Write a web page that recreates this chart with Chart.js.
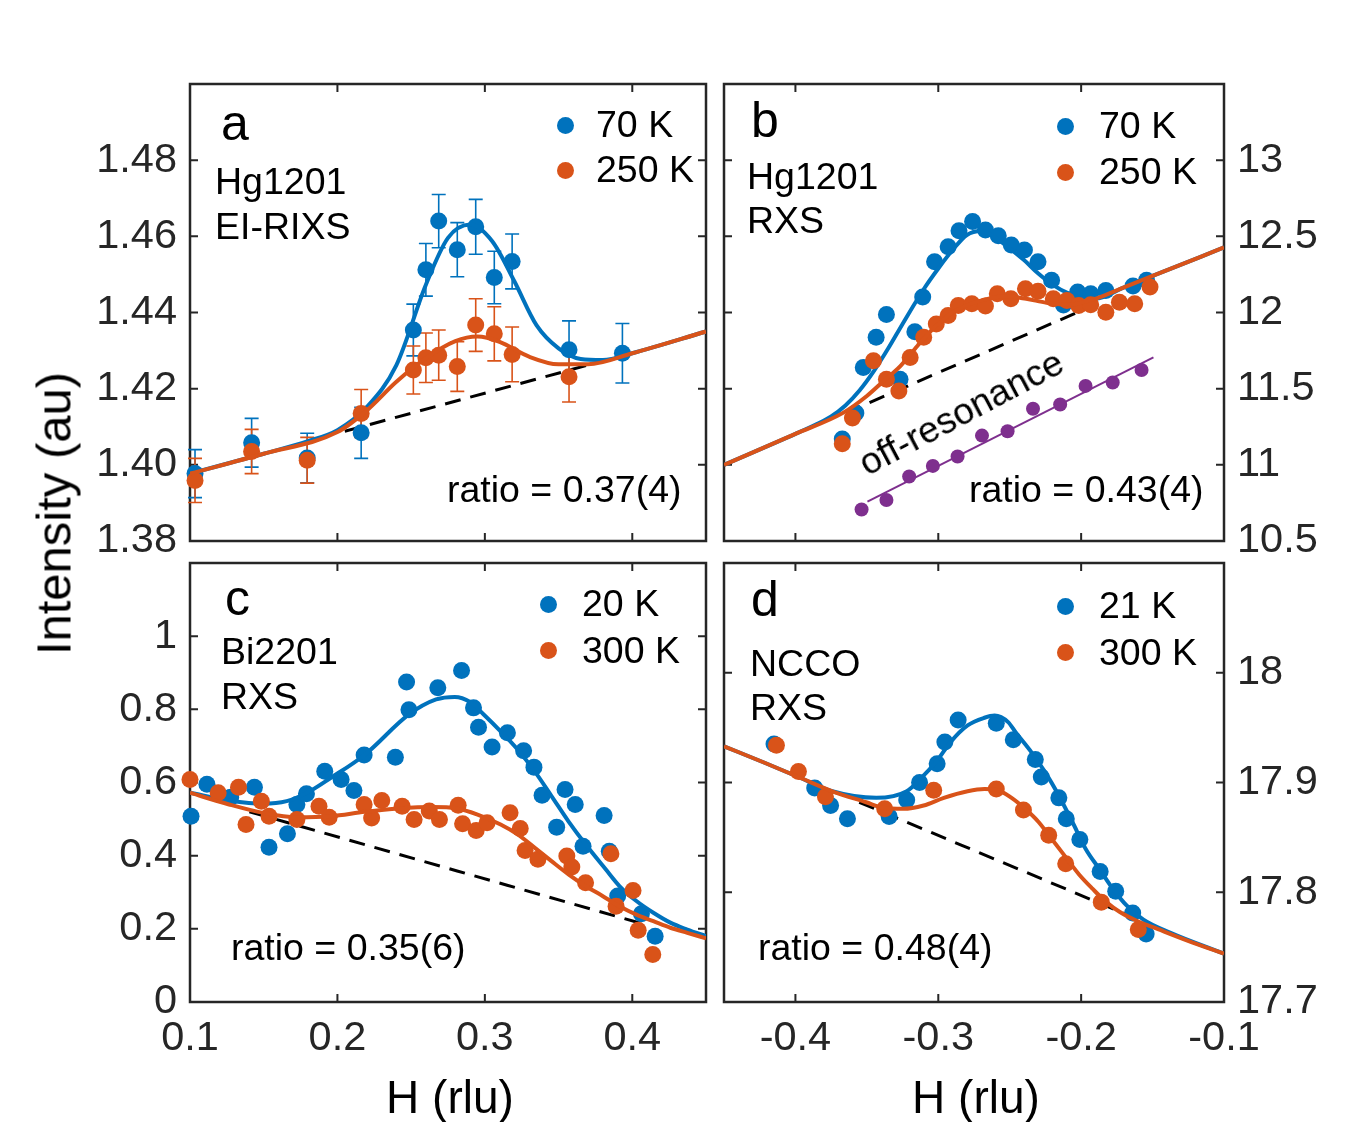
<!DOCTYPE html>
<html><head><meta charset="utf-8">
<script src="https://cdn.jsdelivr.net/npm/chart.js@4/dist/chart.umd.min.js"></script>
<style>
html,body{margin:0;padding:0;background:#fff;}
#wrap{position:relative;width:1350px;height:1122px;overflow:hidden;font-family:"Liberation Sans",Arial,Helvetica,sans-serif;}
#wrap canvas{position:absolute;left:0;top:0;}
.t{position:absolute;white-space:nowrap;line-height:1;color:#000;}
.dot{position:absolute;border-radius:50%;}
</style></head><body>
<div id="wrap">
<canvas id="ca" width="1350" height="1122"></canvas>
<canvas id="cb" width="1350" height="1122"></canvas>
<canvas id="cc" width="1350" height="1122"></canvas>
<canvas id="cd" width="1350" height="1122"></canvas>
</div>
<script>
// ---------- Panel a: Hg1201 EI-RIXS ----------
const hA70  = [0.1034,0.1418,0.1795,0.2161,0.2515,0.2600,0.2687,0.2813,0.2938,0.3064,0.3185,0.3571,0.3933];
const iA70  = [1.3977,1.4058,1.4018,1.4084,1.4354,1.4512,1.4640,1.4565,1.4625,1.4492,1.4534,1.4302,1.4293];
const eA70  = [0.0063,0.0064,0.0065,0.0067,0.0068,0.0069,0.0070,0.0071,0.0072,0.0069,0.0072,0.0076,0.0078];
const hA250 = [0.1034,0.1418,0.1795,0.2161,0.2515,0.2600,0.2687,0.2813,0.2938,0.3064,0.3185,0.3571];
const iA250 = [1.3959,1.4035,1.4012,1.4135,1.4249,1.4281,1.4288,1.4258,1.4367,1.4344,1.4290,1.4231];
const eA250 = [0.0058,0.0058,0.0060,0.0063,0.0063,0.0065,0.0066,0.0065,0.0069,0.0071,0.0072,0.0066];
const fitA70H  = [0.10,0.15,0.18,0.20,0.22,0.24,0.26,0.275,0.29,0.305,0.32,0.335,0.35,0.365,0.38,0.40,0.45];
const fitA70I  = [1.3977,1.4029,1.4062,1.4091,1.4152,1.4262,1.4473,1.4596,1.4631,1.4587,1.4482,1.4367,1.4306,1.4278,1.4275,1.4293,1.4350];
const fitA250H = [0.10,0.15,0.20,0.22,0.24,0.26,0.28,0.295,0.31,0.33,0.35,0.37,0.40,0.45];
const fitA250I = [1.3977,1.4029,1.4086,1.4143,1.4218,1.4280,1.4325,1.4337,1.4323,1.4284,1.4264,1.4264,1.4293,1.4350];
const bgAH = [0.205,0.370];
const bgAI = [1.4088,1.4262];

// ---------- Panel b: Hg1201 RXS ----------
const hB70  = [-0.3672,-0.3577,-0.3525,-0.3435,-0.3363,-0.3268,-0.3164,-0.3109,-0.3026,-0.2931,-0.2855,-0.2760,-0.2670,-0.2580,-0.2489,-0.2397,-0.2302,-0.2207,-0.2124,-0.2024,-0.1933,-0.1827,-0.1637,-0.1542];
const iB70  = [11.170,11.341,11.639,11.837,11.987,11.562,11.874,12.101,12.333,12.432,12.537,12.597,12.542,12.504,12.443,12.410,12.333,12.211,12.050,12.134,12.123,12.145,12.174,12.211];
const hB250 = [-0.3672,-0.3601,-0.3454,-0.3363,-0.3276,-0.3197,-0.3102,-0.3014,-0.2931,-0.2860,-0.2765,-0.2670,-0.2587,-0.2492,-0.2390,-0.2302,-0.2195,-0.2100,-0.2017,-0.1933,-0.1827,-0.1732,-0.1625,-0.1518];
const iB250 = [11.139,11.308,11.683,11.562,11.485,11.705,11.837,11.925,11.980,12.046,12.057,12.042,12.123,12.090,12.156,12.139,12.090,12.079,12.046,12.051,12.002,12.068,12.057,12.167];
const hBoff = [-0.3537,-0.3363,-0.3204,-0.3038,-0.2865,-0.2694,-0.2515,-0.2337,-0.2147,-0.1969,-0.1779,-0.1577];
const iBoff = [10.707,10.769,10.923,10.993,11.055,11.192,11.220,11.368,11.396,11.518,11.540,11.623];
const lineBoffH = [-0.3496,-0.1494];
const lineBoffI = [10.758,11.705];
const fitB70H  = [-0.45,-0.40,-0.385,-0.375,-0.365,-0.355,-0.345,-0.335,-0.325,-0.31,-0.30,-0.29,-0.28,-0.27,-0.26,-0.25,-0.24,-0.23,-0.22,-0.21,-0.20,-0.19,-0.17,-0.15,-0.10];
const fitB70I  = [11.000,11.203,11.268,11.318,11.390,11.490,11.617,11.765,11.925,12.156,12.289,12.410,12.509,12.535,12.491,12.421,12.344,12.256,12.183,12.130,12.101,12.090,12.165,12.240,12.427];
const fitB250H = [-0.45,-0.40,-0.3667,-0.35,-0.3382,-0.3264,-0.3145,-0.3026,-0.2907,-0.2789,-0.267,-0.2527,-0.2385,-0.2242,-0.2076,-0.1957,-0.1886,-0.17,-0.15,-0.10];
const fitB250I = [11.000,11.203,11.341,11.452,11.551,11.650,11.782,11.903,11.996,12.051,12.086,12.106,12.090,12.064,12.051,12.075,12.095,12.165,12.240,12.427];
const bgBH = [-0.3648,-0.1903];
const bgBI = [11.341,12.051];

// ---------- Panel c: Bi2201 RXS ----------
const hC20  = [0.1007,0.1115,0.1276,0.1437,0.1536,0.1661,0.1725,0.1790,0.1914,0.2025,0.2112,0.2181,0.2393,0.2469,0.2485,0.2681,0.2842,0.2923,0.2957,0.3049,0.3153,0.3263,0.3333,0.3388,0.3487,0.3544,0.3613,0.3666,0.3809,0.3844,0.3901,0.4062,0.4155];
const iC20  = [0.508,0.595,0.560,0.587,0.423,0.460,0.540,0.569,0.631,0.608,0.578,0.675,0.669,0.875,0.799,0.859,0.906,0.804,0.751,0.697,0.736,0.687,0.642,0.565,0.478,0.581,0.540,0.426,0.510,0.412,0.290,0.241,0.180];
const hC300 = [0.1000,0.1191,0.1329,0.1380,0.1484,0.1536,0.1725,0.1875,0.1944,0.2181,0.2232,0.2301,0.2439,0.2520,0.2623,0.2692,0.2819,0.2849,0.2941,0.3015,0.3171,0.3240,0.3273,0.3360,0.3556,0.3590,0.3683,0.3855,0.3890,0.4005,0.4040,0.4139];
const iC300 = [0.608,0.572,0.587,0.485,0.549,0.508,0.499,0.535,0.505,0.540,0.503,0.551,0.535,0.499,0.522,0.499,0.538,0.487,0.469,0.490,0.517,0.474,0.414,0.390,0.399,0.369,0.326,0.405,0.262,0.305,0.196,0.130];
const fitC20H  = [0.10,0.1265,0.1495,0.1656,0.1794,0.1956,0.2186,0.2485,0.2669,0.2796,0.29,0.2992,0.3107,0.3222,0.3337,0.3452,0.3567,0.3683,0.3821,0.3913,0.4028,0.4143,0.4258,0.4373,0.45];
const fitC20I  = [0.572,0.551,0.542,0.549,0.572,0.613,0.676,0.786,0.827,0.834,0.820,0.786,0.740,0.690,0.631,0.563,0.494,0.431,0.362,0.317,0.276,0.244,0.217,0.198,0.180];
const fitC300H = [0.10,0.1265,0.1495,0.1725,0.1956,0.2186,0.2416,0.2646,0.2808,0.2946,0.3107,0.3222,0.3337,0.3452,0.3567,0.3683,0.3798,0.3913,0.4028,0.4143,0.4258,0.4373,0.45];
const fitC300I = [0.572,0.540,0.517,0.505,0.508,0.520,0.529,0.533,0.529,0.513,0.485,0.458,0.422,0.385,0.349,0.317,0.290,0.262,0.239,0.221,0.203,0.189,0.174];
const bgCH = [0.1403,0.4085];
const bgCI = [0.520,0.212];

// ---------- Panel d: NCCO RXS ----------
const hD21  = [-0.4150,-0.3865,-0.3754,-0.3636,-0.3344,-0.3221,-0.3131,-0.3008,-0.2954,-0.2861,-0.2594,-0.2475,-0.2321,-0.2279,-0.2156,-0.2104,-0.2009,-0.1867,-0.1758,-0.1639,-0.1545];
const iD21  = [17.935,17.895,17.879,17.867,17.869,17.884,17.900,17.917,17.937,17.957,17.954,17.939,17.921,17.905,17.886,17.867,17.848,17.819,17.801,17.781,17.762];
const hD300 = [-0.4133,-0.3979,-0.3790,-0.3375,-0.3032,-0.2594,-0.2404,-0.2227,-0.2108,-0.1859,-0.1600];
const iD300 = [17.934,17.910,17.887,17.876,17.893,17.894,17.875,17.852,17.826,17.791,17.766];
const fitD21H  = [-0.45,-0.4216,-0.3979,-0.3742,-0.3434,-0.3221,-0.3127,-0.3008,-0.2913,-0.2795,-0.2677,-0.2606,-0.2511,-0.246,-0.2345,-0.225,-0.2156,-0.2061,-0.1966,-0.1871,-0.1777,-0.1682,-0.1564,-0.1374,-0.10];
const fitD21I  = [17.933,17.918,17.905,17.892,17.886,17.892,17.903,17.920,17.937,17.952,17.959,17.961,17.955,17.946,17.927,17.909,17.888,17.864,17.839,17.821,17.803,17.788,17.775,17.763,17.744];
const fitD300H = [-0.45,-0.4216,-0.3979,-0.3742,-0.3505,-0.3387,-0.3245,-0.3103,-0.2961,-0.2795,-0.2677,-0.2582,-0.2487,-0.2392,-0.2298,-0.2203,-0.2108,-0.2013,-0.1919,-0.1824,-0.1729,-0.1611,-0.1493,-0.1256,-0.10];
const fitD300I = [17.933,17.918,17.905,17.892,17.882,17.877,17.876,17.879,17.886,17.892,17.894,17.893,17.886,17.876,17.864,17.848,17.832,17.816,17.803,17.791,17.782,17.774,17.768,17.756,17.744];
const bgDH = [-0.3553,-0.1540];
const bgDI = [17.882,17.772];

// ---------- Ticks ----------
const xTicksLeft   = [0.1,0.2,0.3,0.4];
const xLabelsLeft  = ['0.1','0.2','0.3','0.4'];
const xTicksRight  = [-0.4,-0.3,-0.2,-0.1];
const xLabelsRight = ['-0.4','-0.3','-0.2','-0.1'];
const yTicksA  = [1.38,1.40,1.42,1.44,1.46,1.48];
const yLabelsA = ['1.38','1.40','1.42','1.44','1.46','1.48'];
const yTicksB  = [10.5,11,11.5,12,12.5,13];
const yLabelsB = ['10.5','11','11.5','12','12.5','13'];
const yTicksC  = [0,0.2,0.4,0.6,0.8,1];
const yLabelsC = ['0','0.2','0.4','0.6','0.8','1'];
const yTicksD  = [17.7,17.8,17.9,18];
const yLabelsD = ['17.7','17.8','17.9','18'];

// ---------- Style ----------
const BLUE = '#0072BD', ORANGE = '#D95319', PURPLE = '#7E2F8E', AXIS = '#262626';
const FONT = '"Liberation Sans", Arial, Helvetica, sans-serif';
const TICK_SIZE = 41.5;
Chart.defaults.font.family = FONT;

const pts = (h, v) => h.map((x, i) => ({x, y: v[i]}));
function scat(h, v, color, r, order) {
  return {type: 'scatter', data: pts(h, v), backgroundColor: color, borderColor: color,
    borderWidth: 0, pointRadius: r, pointHoverRadius: r, showLine: false, clip: false, order};
}
function line(h, v, color, w, order, dash) {
  return {type: 'line', data: pts(h, v), borderColor: color, backgroundColor: color, borderWidth: w,
    pointRadius: 0, fill: false, cubicInterpolationMode: 'monotone', borderDash: dash || [],
    borderCapStyle: 'butt', order};
}

function panel(id, P) {
  const W = 130, HH = 80;
  const showX = !!P.xLabels;
  const padding = {
    top: P.area.t,
    left: P.ySide === 'left' ? P.area.l - W : P.area.l,
    right: P.ySide === 'right' ? 1350 - P.area.r - W : 1350 - P.area.r,
    bottom: showX ? 1122 - P.area.b - HH : 1122 - P.area.b
  };
  const framePlugin = {
    id: 'frame_' + id,
    beforeDatasetsDraw(chart) {
      const {ctx, chartArea: a} = chart;
      const xs = chart.scales.x, ys = chart.scales.y;
      ctx.save();
      ctx.strokeStyle = AXIS; ctx.lineWidth = 2.5;
      ctx.strokeRect(a.left, a.top, a.right - a.left, a.bottom - a.top);
      ctx.lineWidth = 2;
      const L = 8;
      ctx.beginPath();
      P.xTicks.forEach(v => {
        const px = xs.getPixelForValue(v);
        if (px > a.left + 2 && px < a.right - 2) {
          ctx.moveTo(px, a.bottom); ctx.lineTo(px, a.bottom - L);
          ctx.moveTo(px, a.top); ctx.lineTo(px, a.top + L);
        }
      });
      P.yTicks.forEach(v => {
        const py = ys.getPixelForValue(v);
        if (py > a.top + 2 && py < a.bottom - 2) {
          ctx.moveTo(a.left, py); ctx.lineTo(a.left + L, py);
          ctx.moveTo(a.right, py); ctx.lineTo(a.right - L, py);
        }
      });
      ctx.stroke();
      (P.errors || []).forEach(E => {
        ctx.strokeStyle = E.color; ctx.lineWidth = 1.6;
        ctx.beginPath();
        E.h.forEach((hv, i) => {
          const px = xs.getPixelForValue(hv);
          const y1 = ys.getPixelForValue(E.v[i] - E.e[i]);
          const y2 = ys.getPixelForValue(E.v[i] + E.e[i]);
          ctx.moveTo(px, y1); ctx.lineTo(px, y2);
          ctx.moveTo(px - 7, y1); ctx.lineTo(px + 7, y1);
          ctx.moveTo(px - 7, y2); ctx.lineTo(px + 7, y2);
        });
        ctx.stroke();
      });
      ctx.restore();
    }
  };
  return new Chart(document.getElementById(id), {
    type: 'scatter',
    data: {datasets: P.datasets},
    options: {
      responsive: false, animation: false, devicePixelRatio: 1, events: [],
      layout: {padding, autoPadding: false},
      plugins: {legend: {display: false}, tooltip: {enabled: false}, title: {display: false}},
      scales: {
        x: {
          type: 'linear', position: 'bottom', min: P.xMin, max: P.xMax, display: showX,
          grid: {display: false, drawTicks: false}, border: {display: false},
          afterFit: s => { s.height = showX ? HH : 0; },
          afterBuildTicks: s => { s.ticks = P.xTicks.map(v => ({value: v})); },
          ticks: {autoSkip: false, maxRotation: 0, minRotation: 0, padding: 12, color: AXIS,
            font: {family: FONT, size: TICK_SIZE},
            callback: (v, i) => showX ? P.xLabels[i] : ''}
        },
        y: {
          type: 'linear', position: P.ySide, min: P.yMin, max: P.yMax,
          grid: {display: false, drawTicks: false}, border: {display: false},
          afterFit: s => { s.width = W; },
          afterBuildTicks: s => { s.ticks = P.yTicks.map(v => ({value: v})); },
          ticks: {autoSkip: false, padding: 13, color: AXIS, font: {family: FONT, size: TICK_SIZE},
            callback: (v, i) => P.yLabels[i]}
        }
      }
    },
    plugins: [framePlugin]
  });
}

const AREA_TOP = {t: 84, b: 541}, AREA_BOT = {t: 563, b: 1002};
const COL_L = {l: 190, r: 706}, COL_R = {l: 724, r: 1224};

panel('ca', {
  area: {l: COL_L.l, r: COL_L.r, t: AREA_TOP.t, b: AREA_TOP.b}, ySide: 'left',
  xMin: 0.1, xMax: 0.45, yMin: 1.38, yMax: 1.50,
  xTicks: xTicksLeft, xLabels: null, yTicks: yTicksA, yLabels: yLabelsA,
  errors: [{h: hA70, v: iA70, e: eA70, color: BLUE}, {h: hA250, v: iA250, e: eA250, color: ORANGE}],
  datasets: [
    line(fitA250H, fitA250I, ORANGE, 4, 1),
    scat(hA250, iA250, ORANGE, 8.5, 2),
    line(fitA70H, fitA70I, BLUE, 4, 3),
    scat(hA70, iA70, BLUE, 8.5, 4),
    line(bgAH, bgAI, '#000', 3, 5, [16, 10])
  ]
});
panel('cb', {
  area: {l: COL_R.l, r: COL_R.r, t: AREA_TOP.t, b: AREA_TOP.b}, ySide: 'right',
  xMin: -0.45, xMax: -0.1, yMin: 10.5, yMax: 13.5,
  xTicks: xTicksRight, xLabels: null, yTicks: yTicksB, yLabels: yLabelsB,
  datasets: [
    line(fitB250H, fitB250I, ORANGE, 4, 1),
    scat(hB250, iB250, ORANGE, 8.5, 2),
    line(fitB70H, fitB70I, BLUE, 4, 3),
    scat(hB70, iB70, BLUE, 8.5, 4),
    line(bgBH, bgBI, '#000', 3, 5, [16, 10]),
    scat(hBoff, iBoff, PURPLE, 7, 6),
    line(lineBoffH, lineBoffI, PURPLE, 2, 7)
  ]
});
panel('cc', {
  area: {l: COL_L.l, r: COL_L.r, t: AREA_BOT.t, b: AREA_BOT.b}, ySide: 'left',
  xMin: 0.1, xMax: 0.45, yMin: 0, yMax: 1.2,
  xTicks: xTicksLeft, xLabels: xLabelsLeft, yTicks: yTicksC, yLabels: yLabelsC,
  datasets: [
    line(fitC300H, fitC300I, ORANGE, 4, 1),
    scat(hC300, iC300, ORANGE, 8.5, 2),
    line(fitC20H, fitC20I, BLUE, 4, 3),
    scat(hC20, iC20, BLUE, 8.5, 4),
    line(bgCH, bgCI, '#000', 3, 5, [16, 10])
  ]
});
panel('cd', {
  area: {l: COL_R.l, r: COL_R.r, t: AREA_BOT.t, b: AREA_BOT.b}, ySide: 'right',
  xMin: -0.45, xMax: -0.1, yMin: 17.7, yMax: 18.1,
  xTicks: xTicksRight, xLabels: xLabelsRight, yTicks: yTicksD, yLabels: yLabelsD,
  datasets: [
    line(fitD300H, fitD300I, ORANGE, 4, 1),
    scat(hD300, iD300, ORANGE, 8.5, 2),
    line(fitD21H, fitD21I, BLUE, 4, 3),
    scat(hD21, iD21, BLUE, 8.5, 4),
    line(bgDH, bgDI, '#000', 3, 5, [16, 10])
  ]
});

// ---------- Text annotations ----------
const wrap = document.getElementById('wrap');
function addText(t, x, base, size, extra) {
  const d = document.createElement('div');
  d.className = 't';
  d.textContent = t;
  d.style.left = x + 'px';
  d.style.top = (base - 0.8465 * size) + 'px';
  d.style.fontSize = size + 'px';
  if (extra) Object.assign(d.style, extra);
  wrap.appendChild(d);
  return d;
}
function addDot(cx, cy, r, color) {
  const d = document.createElement('div');
  d.className = 'dot';
  Object.assign(d.style, {left: (cx - r) + 'px', top: (cy - r) + 'px', width: 2 * r + 'px', height: 2 * r + 'px', background: color});
  wrap.appendChild(d);
}
const TS = 37.5, LS = 50;
const notes = [
  ['a', 221, 140, LS], ['Hg1201', 215, 195, TS], ['EI-RIXS', 215, 240, TS],
  ['70 K', 596, 138, TS], ['250 K', 596, 183, TS], ['ratio = 0.37(4)', 447, 503, TS],
  ['b', 751, 137, LS], ['Hg1201', 747, 190, TS], ['RXS', 747, 234, TS],
  ['70 K', 1099, 139, TS], ['250 K', 1099, 185, TS], ['ratio = 0.43(4)', 969, 503, TS],
  ['c', 225, 615, LS], ['Bi2201', 221, 665, TS], ['RXS', 221, 710, TS],
  ['20 K', 582, 617, TS], ['300 K', 582, 664, TS], ['ratio = 0.35(6)', 231, 961, TS],
  ['d', 751, 616, LS], ['NCCO', 750, 677, TS], ['RXS', 750, 721, TS],
  ['21 K', 1099, 619, TS], ['300 K', 1099, 666, TS], ['ratio = 0.48(4)', 758, 961, TS]
];
notes.forEach(n => addText(n[0], n[1], n[2], n[3]));
[[565,125,BLUE],[565,170,ORANGE],[1065,126,BLUE],[1065,172,ORANGE],
 [548,604,BLUE],[548,650,ORANGE],[1065,606,BLUE],[1065,652,ORANGE]].forEach(p => addDot(p[0], p[1], 8.5, p[2]));

// axis titles
addText('H (rlu)', 300, 1113, 46, {width: '300px', textAlign: 'center'});
addText('H (rlu)', 826, 1113, 46, {width: '300px', textAlign: 'center'});
const yl = document.createElement('div');
yl.className = 't';
yl.textContent = 'Intensity (au)';
Object.assign(yl.style, {left: (54 - 200) + 'px', top: (513 - 24.5) + 'px', width: '400px', height: '49px',
  fontSize: '49px', textAlign: 'center', transform: 'rotate(-90deg)', transformOrigin: '50% 50%'});
wrap.appendChild(yl);
const off = document.createElement('div');
off.className = 't';
off.textContent = 'off-resonance';
Object.assign(off.style, {left: (961 - 150) + 'px', top: (412 - 18.5) + 'px', width: '300px', height: '37px',
  fontSize: '37px', textAlign: 'center', transform: 'rotate(-28deg)', transformOrigin: '50% 50%'});
wrap.appendChild(off);
</script>
</body></html>
